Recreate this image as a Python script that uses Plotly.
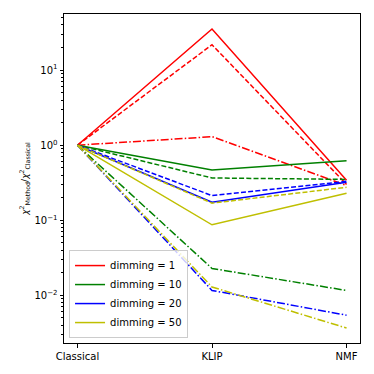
import numpy as np
import plotly.graph_objects as go

# methods on the x axis
methods = ["Classical", "KLIP", "NMF"]

# chi2 ratio per dimming level, three line styles each (solid, dashed, dashdot)
dim1_solid = [1.0, 35.4, 0.34]
dim1_dash = [1.0, 21.8, 0.30]
dim1_dashdot = [1.0, 1.30, 0.29]

dim10_solid = [1.0, 0.467, 0.62]
dim10_dash = [1.0, 0.366, 0.35]
dim10_dashdot = [1.0, 0.0228, 0.0116]

dim20_solid = [1.0, 0.174, 0.32]
dim20_dash = [1.0, 0.213, 0.33]
dim20_dashdot = [1.0, 0.0116, 0.00543]

dim50_solid = [1.0, 0.087, 0.229]
dim50_dash = [1.0, 0.169, 0.275]
dim50_dashdot = [1.0, 0.0129, 0.00366]

series = [
    ("dimming = 1", "#ff0000", [dim1_solid, dim1_dash, dim1_dashdot]),
    ("dimming = 10", "#008000", [dim10_solid, dim10_dash, dim10_dashdot]),
    ("dimming = 20", "#0000ff", [dim20_solid, dim20_dash, dim20_dashdot]),
    ("dimming = 50", "#bfbf00", [dim50_solid, dim50_dash, dim50_dashdot]),
]
dashes = ["solid", "5px,2.2px", "8px,2.2px,1.5px,2.2px"]

fig = go.Figure()
for name, color, lines in series:
    for i, vals in enumerate(lines):
        fig.add_trace(go.Scatter(
            x=methods, y=vals, mode="lines", name=name,
            line=dict(color=color, width=1.5, dash=dashes[i]),
            showlegend=(i == 0), legendgroup=name,
        ))

# log range with matplotlib-like 5% margins
allv = np.array([v for _, _, ls in series for l in ls for v in l])
lo, hi = np.log10(allv.min()), np.log10(allv.max())
pad = 0.05 * (hi - lo)

major = [1e-2, 1e-1, 1e0, 1e1]
minor = [m * 10.0 ** k for k in range(-3, 2) for m in range(2, 10)]

fig.update_layout(
    width=374, height=374,
    margin=dict(l=64, r=14, t=14, b=29),
    paper_bgcolor="white", plot_bgcolor="white",
    font=dict(family="DejaVu Sans", size=10, color="black"),
    legend=dict(
        x=0.017, y=0.015, xanchor="left", yanchor="bottom",
        bgcolor="rgba(255,255,255,0.8)", bordercolor="#cccccc", borderwidth=1,
        font=dict(size=10), tracegroupgap=0, itemwidth=30,
    ),
    xaxis=dict(
        type="category", range=[-0.1, 2.1],
        showline=True, linecolor="black", linewidth=1, mirror=True,
        ticks="outside", ticklen=3.5, tickcolor="black", showgrid=False,
    ),
    yaxis=dict(
        type="log", range=[lo - pad, hi + pad],
        tickmode="array", tickvals=major,
        ticktext=["10<sup>−2</sup>", "10<sup>−1</sup>", "10<sup>0</sup>", "10<sup>1</sup>"],
        showline=True, linecolor="black", linewidth=1, mirror=True,
        ticks="outside", ticklen=3.5, tickcolor="black", showgrid=False,
        minor=dict(tickmode="array", tickvals=minor, ticks="outside", ticklen=2,
                   tickcolor="black", showgrid=False),
        title=dict(text="<i>χ</i><sup>2</sup><sub>Method</sub>/<i>χ</i><sup>2</sup><sub>Classical</sub>",
                   font=dict(size=9), standoff=4),
    ),
)

# drop the default page margin so the figure sits at 0,0
fig.write_html("out.html", config={"displayModeBar": False},
               post_script="document.body.style.margin='0';")
